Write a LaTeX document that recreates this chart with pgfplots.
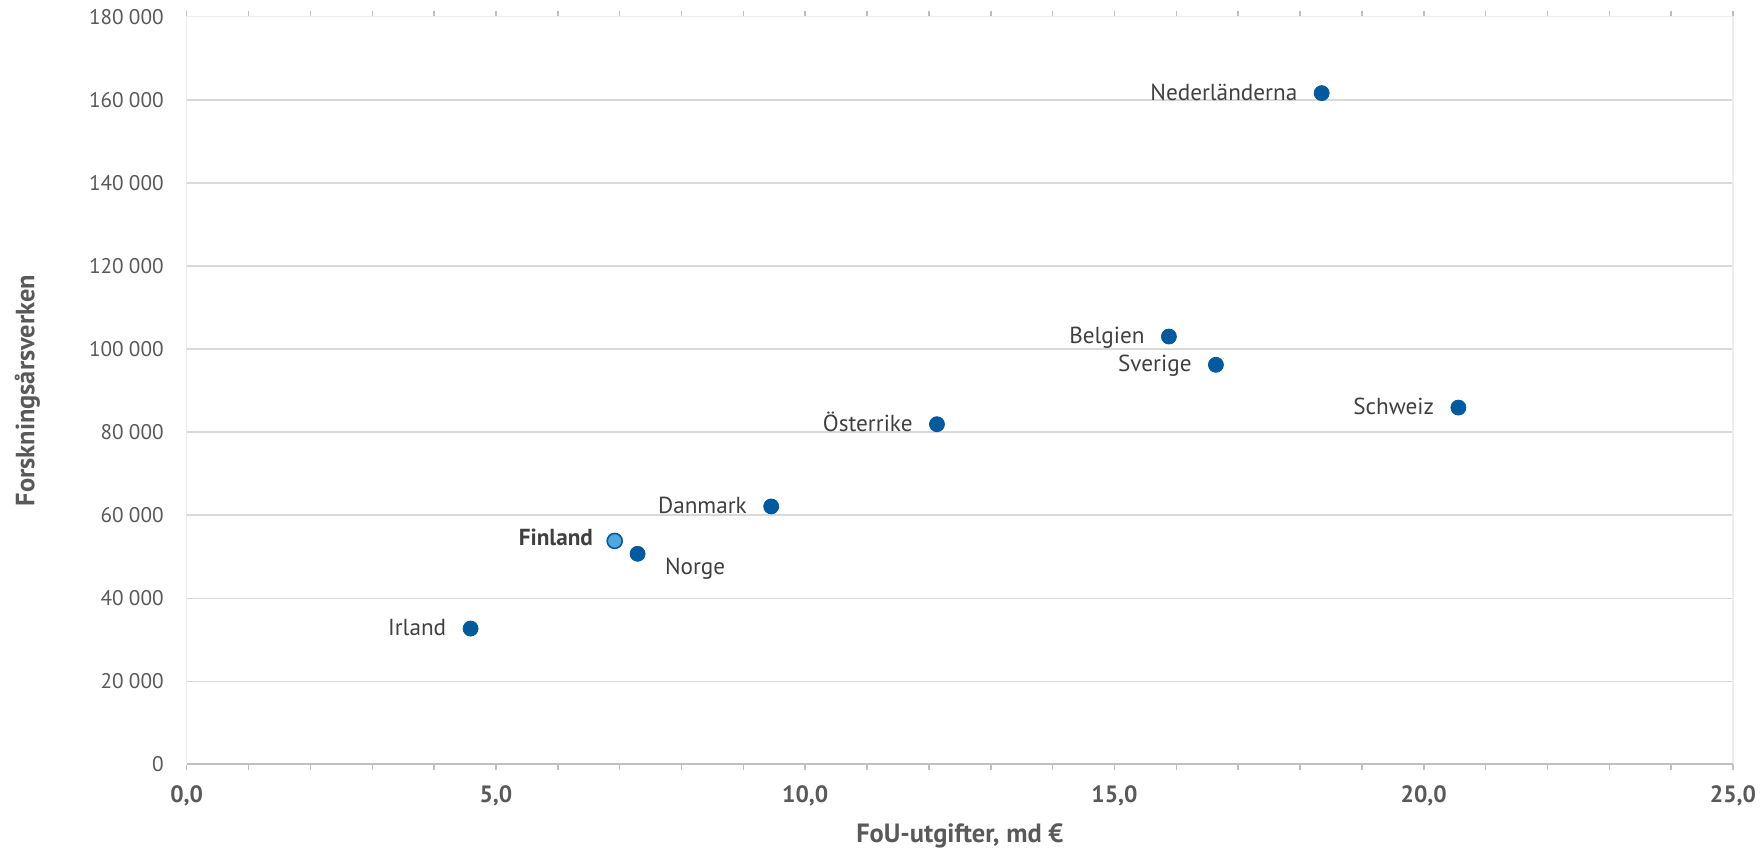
\documentclass[border=0pt]{standalone}
\usepackage{pgfplots}
\pgfplotsset{compat=1.18}
\usepackage{pgfplotstable}
\usepackage{fontspec}
\setmainfont{PT Sans}
\definecolor{dotblue}{HTML}{005A9E}
\definecolor{finblue}{HTML}{4FA8DE}
\definecolor{labeltxt}{HTML}{404040}
\definecolor{ticktxt}{HTML}{595959}

% FoU-utgifter (md euro) och forskningsårsverken
\pgfplotstableread[col sep=comma]{
x,y,land
18.35,161600,Nederländerna
15.88,103000,Belgien
16.64,96200,Sverige
20.56,85900,Schweiz
12.13,81900,Österrike
9.45,62100,Danmark
4.59,32700,Irland
}\lander

\begin{document}
\begin{tikzpicture}
\begin{axis}[
    at={(0,0)}, anchor=south west,
    scale only axis,
    width=773.15pt, height=373.85pt,
    xmin=0, xmax=25,
    ymin=0, ymax=180000,
    xtick={0,5,...,25},
    minor x tick num=4,
    ytick={0,20000,...,180000},
    scaled y ticks=false,
    /pgf/number format/assume math mode=true,
    ticklabel style={color=ticktxt},
    yticklabel style={font=\fontsize{10.6}{12}\selectfont, xshift=-5pt,
        /pgf/number format/.cd, fixed, 1000 sep={\hspace{0.25em}}},
    xticklabel style={font=\fontsize{11.8}{13}\selectfont\bfseries, yshift=-4pt,
        /pgf/number format/.cd, fixed, fixed zerofill, precision=1, use comma},
    tick align=outside,
    major tick length=3pt, minor tick length=3pt,
    xtick style={color=black!25, line width=0.75pt},
    ytick style={draw=none},
    axis line style={color=black!7, line width=0.75pt},
    ymajorgrids,
    major grid style={color=black!15, line width=0.75pt},
    extra y ticks={0}, extra y tick labels={},
    extra y tick style={grid=major, major grid style={color=black!25, line width=1pt}},
    xlabel={FoU-utgifter, md €},
    ylabel={Forskningsårsverken},
    label style={color=ticktxt, font=\fontsize{13.2}{15}\selectfont\bfseries},
    xlabel style={at={(axis description cs:0.5,-0.0952)}, anchor=center},
    ylabel style={at={(axis description cs:-0.103,0.5)}, anchor=center},
    clip=false,
]
\addplot[only marks, mark=*, mark size=3.75pt, color=dotblue,
    nodes near coords, point meta=explicit symbolic,
    nodes near coords align={anchor=mid east},
    every node near coord/.append style={xshift=-12pt, yshift=-1pt, inner sep=0pt, color=labeltxt,
        font=\fontsize{11.6}{13}\selectfont}]
    table[x=x, y=y, meta=land] {\lander};
\addplot[only marks, mark=*, mark size=3.75pt, color=dotblue,
    nodes near coords, point meta=explicit symbolic,
    nodes near coords align={anchor=north west},
    every node near coord/.append style={xshift=13.5pt, yshift=-2pt, inner sep=0pt, color=labeltxt,
        font=\fontsize{11.6}{13}\selectfont}]
    coordinates {(7.29,50700) [Norge]};
\addplot[only marks, mark=*, mark size=3.75pt, draw=dotblue, fill=finblue, line width=0.8pt,
    nodes near coords, point meta=explicit symbolic,
    nodes near coords align={anchor=mid east},
    every node near coord/.append style={xshift=-10.5pt, inner sep=0pt, color=labeltxt,
        font=\fontsize{11.6}{13}\selectfont\bfseries}]
    coordinates {(6.92,53800) [Finland]};
\end{axis}
\pgfresetboundingbox
\path[use as bounding box] (-93.35pt,-43.8pt) rectangle (786.65pt,382.2pt);
\end{tikzpicture}
\end{document}
